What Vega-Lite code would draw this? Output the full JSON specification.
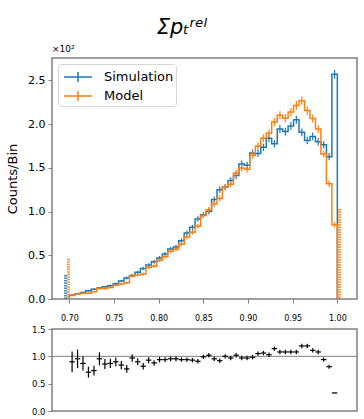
{
  "$schema": "https://vega.github.io/schema/vega-lite/v6.json",
  "background": "white",
  "padding": {"left": 5, "right": 5, "top": 17, "bottom": 5},
  "config": {
    "font": "DejaVu Sans",
    "view": {"stroke": "#808080", "strokeWidth": 1.5},
    "axis": {"grid": false, "domain": false, "tickColor": "#808080", "labelColor": "#000000", "labelFont": "DejaVu Sans", "titleFont": "DejaVu Sans", "titleFontWeight": "normal", "titleColor": "#000000", "tickSize": 4, "tickWidth": 1, "labelOverlap": false}
  },
  "title": {"text": "Σpₜʳᵉˡ", "fontSize": 21, "fontStyle": "italic", "fontWeight": "normal", "anchor": "middle", "offset": 6, "color": "#000000"},
  "spacing": 1,
  "datasets": {
    "steps": [
      {"k": 0, "x": 0.7, "Simulation": 0, "Model": 0},
      {"k": 1, "x": 0.7, "Simulation": 0.045, "Model": 0.041},
      {"k": 2, "x": 0.7061, "Simulation": 0.06, "Model": 0.057},
      {"k": 3, "x": 0.7122, "Simulation": 0.075, "Model": 0.065},
      {"k": 4, "x": 0.7184, "Simulation": 0.095, "Model": 0.067},
      {"k": 5, "x": 0.7245, "Simulation": 0.112, "Model": 0.083},
      {"k": 6, "x": 0.7306, "Simulation": 0.125, "Model": 0.119},
      {"k": 7, "x": 0.7367, "Simulation": 0.14, "Model": 0.12},
      {"k": 8, "x": 0.7429, "Simulation": 0.152, "Model": 0.132},
      {"k": 9, "x": 0.749, "Simulation": 0.175, "Model": 0.158},
      {"k": 10, "x": 0.7551, "Simulation": 0.205, "Model": 0.172},
      {"k": 11, "x": 0.7612, "Simulation": 0.24, "Model": 0.185},
      {"k": 12, "x": 0.7673, "Simulation": 0.27, "Model": 0.262},
      {"k": 13, "x": 0.7735, "Simulation": 0.305, "Model": 0.275},
      {"k": 14, "x": 0.7796, "Simulation": 0.35, "Model": 0.287},
      {"k": 15, "x": 0.7857, "Simulation": 0.39, "Model": 0.363},
      {"k": 16, "x": 0.7918, "Simulation": 0.425, "Model": 0.374},
      {"k": 17, "x": 0.798, "Simulation": 0.47, "Model": 0.442},
      {"k": 18, "x": 0.8041, "Simulation": 0.515, "Model": 0.484},
      {"k": 19, "x": 0.8102, "Simulation": 0.572, "Model": 0.546},
      {"k": 20, "x": 0.8163, "Simulation": 0.595, "Model": 0.568},
      {"k": 21, "x": 0.8224, "Simulation": 0.665, "Model": 0.625},
      {"k": 22, "x": 0.8286, "Simulation": 0.755, "Model": 0.71},
      {"k": 23, "x": 0.8347, "Simulation": 0.82, "Model": 0.763},
      {"k": 24, "x": 0.8408, "Simulation": 0.915, "Model": 0.833},
      {"k": 25, "x": 0.8469, "Simulation": 0.965, "Model": 0.955},
      {"k": 26, "x": 0.8531, "Simulation": 1.0, "Model": 1.02},
      {"k": 27, "x": 0.8592, "Simulation": 1.137, "Model": 1.086},
      {"k": 28, "x": 0.8653, "Simulation": 1.25, "Model": 1.15},
      {"k": 29, "x": 0.8714, "Simulation": 1.28, "Model": 1.28},
      {"k": 30, "x": 0.8776, "Simulation": 1.355, "Model": 1.314},
      {"k": 31, "x": 0.8837, "Simulation": 1.412, "Model": 1.44},
      {"k": 32, "x": 0.8898, "Simulation": 1.545, "Model": 1.499},
      {"k": 33, "x": 0.8959, "Simulation": 1.53, "Model": 1.484},
      {"k": 34, "x": 0.902, "Simulation": 1.67, "Model": 1.645},
      {"k": 35, "x": 0.9082, "Simulation": 1.665, "Model": 1.748},
      {"k": 36, "x": 0.9143, "Simulation": 1.735, "Model": 1.839},
      {"k": 37, "x": 0.9204, "Simulation": 1.84, "Model": 1.895},
      {"k": 38, "x": 0.9265, "Simulation": 1.775, "Model": 2.024},
      {"k": 39, "x": 0.9327, "Simulation": 1.945, "Model": 2.101},
      {"k": 40, "x": 0.9388, "Simulation": 1.915, "Model": 2.068},
      {"k": 41, "x": 0.9449, "Simulation": 1.98, "Model": 2.138},
      {"k": 42, "x": 0.951, "Simulation": 2.05, "Model": 2.214},
      {"k": 43, "x": 0.9571, "Simulation": 1.907, "Model": 2.269},
      {"k": 44, "x": 0.9633, "Simulation": 1.812, "Model": 2.156},
      {"k": 45, "x": 0.9694, "Simulation": 1.86, "Model": 2.065},
      {"k": 46, "x": 0.9755, "Simulation": 1.8, "Model": 1.944},
      {"k": 47, "x": 0.9816, "Simulation": 1.765, "Model": 1.659},
      {"k": 48, "x": 0.9878, "Simulation": 1.628, "Model": 1.319},
      {"k": 49, "x": 0.9939, "Simulation": 2.57, "Model": 0.848},
      {"k": 50, "x": 1.0, "Simulation": 2.57, "Model": 0.848},
      {"k": 51, "x": 1.0, "Simulation": 0, "Model": 0}
    ],
    "bins": [
      {"lo": 0.7, "hi": 0.7061, "c": 0.7031, "sim": 0.045, "se": 0.007, "model": 0.041, "me": 0.007, "r": 0.9, "re": 0.19},
      {"lo": 0.7061, "hi": 0.7122, "c": 0.7092, "sim": 0.06, "se": 0.008, "model": 0.057, "me": 0.008, "r": 0.955, "re": 0.17},
      {"lo": 0.7122, "hi": 0.7184, "c": 0.7153, "sim": 0.075, "se": 0.009, "model": 0.065, "me": 0.008, "r": 0.87, "re": 0.13},
      {"lo": 0.7184, "hi": 0.7245, "c": 0.7214, "sim": 0.095, "se": 0.01, "model": 0.067, "me": 0.008, "r": 0.71, "re": 0.1},
      {"lo": 0.7245, "hi": 0.7306, "c": 0.7276, "sim": 0.112, "se": 0.011, "model": 0.083, "me": 0.009, "r": 0.74, "re": 0.09},
      {"lo": 0.7306, "hi": 0.7367, "c": 0.7337, "sim": 0.125, "se": 0.011, "model": 0.119, "me": 0.011, "r": 0.955, "re": 0.12},
      {"lo": 0.7367, "hi": 0.7429, "c": 0.7398, "sim": 0.14, "se": 0.012, "model": 0.12, "me": 0.011, "r": 0.86, "re": 0.09},
      {"lo": 0.7429, "hi": 0.749, "c": 0.7459, "sim": 0.152, "se": 0.0125, "model": 0.132, "me": 0.012, "r": 0.87, "re": 0.085},
      {"lo": 0.749, "hi": 0.7551, "c": 0.752, "sim": 0.175, "se": 0.013, "model": 0.158, "me": 0.013, "r": 0.9, "re": 0.08},
      {"lo": 0.7551, "hi": 0.7612, "c": 0.7582, "sim": 0.205, "se": 0.0145, "model": 0.172, "me": 0.013, "r": 0.84, "re": 0.075},
      {"lo": 0.7612, "hi": 0.7673, "c": 0.7643, "sim": 0.24, "se": 0.016, "model": 0.185, "me": 0.014, "r": 0.77, "re": 0.07},
      {"lo": 0.7673, "hi": 0.7735, "c": 0.7704, "sim": 0.27, "se": 0.017, "model": 0.262, "me": 0.016, "r": 0.97, "re": 0.07},
      {"lo": 0.7735, "hi": 0.7796, "c": 0.7765, "sim": 0.305, "se": 0.018, "model": 0.275, "me": 0.017, "r": 0.9, "re": 0.065},
      {"lo": 0.7796, "hi": 0.7857, "c": 0.7827, "sim": 0.35, "se": 0.019, "model": 0.287, "me": 0.017, "r": 0.82, "re": 0.06},
      {"lo": 0.7857, "hi": 0.7918, "c": 0.7888, "sim": 0.39, "se": 0.02, "model": 0.363, "me": 0.019, "r": 0.93, "re": 0.055},
      {"lo": 0.7918, "hi": 0.798, "c": 0.7949, "sim": 0.425, "se": 0.021, "model": 0.374, "me": 0.02, "r": 0.88, "re": 0.05},
      {"lo": 0.798, "hi": 0.8041, "c": 0.801, "sim": 0.47, "se": 0.022, "model": 0.442, "me": 0.021, "r": 0.94, "re": 0.05},
      {"lo": 0.8041, "hi": 0.8102, "c": 0.8071, "sim": 0.515, "se": 0.023, "model": 0.484, "me": 0.022, "r": 0.94, "re": 0.045},
      {"lo": 0.8102, "hi": 0.8163, "c": 0.8133, "sim": 0.572, "se": 0.024, "model": 0.546, "me": 0.024, "r": 0.955, "re": 0.045},
      {"lo": 0.8163, "hi": 0.8224, "c": 0.8194, "sim": 0.595, "se": 0.025, "model": 0.568, "me": 0.024, "r": 0.955, "re": 0.045},
      {"lo": 0.8224, "hi": 0.8286, "c": 0.8255, "sim": 0.665, "se": 0.026, "model": 0.625, "me": 0.025, "r": 0.94, "re": 0.04},
      {"lo": 0.8286, "hi": 0.8347, "c": 0.8316, "sim": 0.755, "se": 0.028, "model": 0.71, "me": 0.027, "r": 0.94, "re": 0.04},
      {"lo": 0.8347, "hi": 0.8408, "c": 0.8378, "sim": 0.82, "se": 0.029, "model": 0.763, "me": 0.028, "r": 0.93, "re": 0.04},
      {"lo": 0.8408, "hi": 0.8469, "c": 0.8439, "sim": 0.915, "se": 0.031, "model": 0.833, "me": 0.029, "r": 0.91, "re": 0.04},
      {"lo": 0.8469, "hi": 0.8531, "c": 0.85, "sim": 0.965, "se": 0.031, "model": 0.955, "me": 0.031, "r": 0.99, "re": 0.04},
      {"lo": 0.8531, "hi": 0.8592, "c": 0.8561, "sim": 1.0, "se": 0.032, "model": 1.02, "me": 0.032, "r": 1.02, "re": 0.04},
      {"lo": 0.8592, "hi": 0.8653, "c": 0.8622, "sim": 1.137, "se": 0.034, "model": 1.086, "me": 0.033, "r": 0.955, "re": 0.04},
      {"lo": 0.8653, "hi": 0.8714, "c": 0.8684, "sim": 1.25, "se": 0.036, "model": 1.15, "me": 0.034, "r": 0.92, "re": 0.04},
      {"lo": 0.8714, "hi": 0.8776, "c": 0.8745, "sim": 1.28, "se": 0.036, "model": 1.28, "me": 0.036, "r": 1.0, "re": 0.04},
      {"lo": 0.8776, "hi": 0.8837, "c": 0.8806, "sim": 1.355, "se": 0.037, "model": 1.314, "me": 0.037, "r": 0.97, "re": 0.04},
      {"lo": 0.8837, "hi": 0.8898, "c": 0.8867, "sim": 1.412, "se": 0.038, "model": 1.44, "me": 0.038, "r": 1.02, "re": 0.04},
      {"lo": 0.8898, "hi": 0.8959, "c": 0.8929, "sim": 1.545, "se": 0.04, "model": 1.499, "me": 0.039, "r": 0.97, "re": 0.04},
      {"lo": 0.8959, "hi": 0.902, "c": 0.899, "sim": 1.53, "se": 0.04, "model": 1.484, "me": 0.039, "r": 0.97, "re": 0.04},
      {"lo": 0.902, "hi": 0.9082, "c": 0.9051, "sim": 1.67, "se": 0.041, "model": 1.645, "me": 0.041, "r": 0.985, "re": 0.04},
      {"lo": 0.9082, "hi": 0.9143, "c": 0.9112, "sim": 1.665, "se": 0.041, "model": 1.748, "me": 0.042, "r": 1.05, "re": 0.04},
      {"lo": 0.9143, "hi": 0.9204, "c": 0.9173, "sim": 1.735, "se": 0.042, "model": 1.839, "me": 0.043, "r": 1.06, "re": 0.04},
      {"lo": 0.9204, "hi": 0.9265, "c": 0.9235, "sim": 1.84, "se": 0.043, "model": 1.895, "me": 0.044, "r": 1.03, "re": 0.04},
      {"lo": 0.9265, "hi": 0.9327, "c": 0.9296, "sim": 1.775, "se": 0.043, "model": 2.024, "me": 0.046, "r": 1.14, "re": 0.04},
      {"lo": 0.9327, "hi": 0.9388, "c": 0.9357, "sim": 1.945, "se": 0.045, "model": 2.101, "me": 0.046, "r": 1.08, "re": 0.04},
      {"lo": 0.9388, "hi": 0.9449, "c": 0.9418, "sim": 1.915, "se": 0.044, "model": 2.068, "me": 0.046, "r": 1.08, "re": 0.04},
      {"lo": 0.9449, "hi": 0.951, "c": 0.948, "sim": 1.98, "se": 0.045, "model": 2.138, "me": 0.047, "r": 1.08, "re": 0.04},
      {"lo": 0.951, "hi": 0.9571, "c": 0.9541, "sim": 2.05, "se": 0.046, "model": 2.214, "me": 0.048, "r": 1.08, "re": 0.04},
      {"lo": 0.9571, "hi": 0.9633, "c": 0.9602, "sim": 1.907, "se": 0.044, "model": 2.269, "me": 0.048, "r": 1.19, "re": 0.04},
      {"lo": 0.9633, "hi": 0.9694, "c": 0.9663, "sim": 1.812, "se": 0.043, "model": 2.156, "me": 0.047, "r": 1.19, "re": 0.04},
      {"lo": 0.9694, "hi": 0.9755, "c": 0.9724, "sim": 1.86, "se": 0.044, "model": 2.065, "me": 0.046, "r": 1.11, "re": 0.04},
      {"lo": 0.9755, "hi": 0.9816, "c": 0.9786, "sim": 1.8, "se": 0.043, "model": 1.944, "me": 0.045, "r": 1.08, "re": 0.04},
      {"lo": 0.9816, "hi": 0.9878, "c": 0.9847, "sim": 1.765, "se": 0.043, "model": 1.659, "me": 0.041, "r": 0.94, "re": 0.04},
      {"lo": 0.9878, "hi": 0.9939, "c": 0.9908, "sim": 1.628, "se": 0.041, "model": 1.319, "me": 0.037, "r": 0.81, "re": 0.035},
      {"lo": 0.9939, "hi": 1.0, "c": 0.9969, "sim": 2.57, "se": 0.051, "model": 0.848, "me": 0.03, "r": 0.33, "re": 0.005}
    ],
    "spikes": [
      {"x": 0.6957, "h": 0.275, "series": "Simulation"},
      {"x": 0.699, "h": 0.46, "series": "Model"},
      {"x": 1.0024, "h": 1.03, "series": "Model"}
    ],
    "ref": [{"ratio": 1}]
  },
  "vconcat": [
    {
      "width": 305,
      "height": 241,
      "title": {"text": "×10²", "anchor": "start", "frame": "group", "fontSize": 9, "fontWeight": "normal", "fontStyle": "normal", "offset": 4, "color": "#000000"},
      "layer": [
        {
          "data": {"name": "steps"},
          "transform": [{"fold": ["Simulation", "Model"], "as": ["series", "v"]}],
          "mark": {"type": "line", "interpolate": "step-after", "strokeWidth": 1.5},
          "encoding": {
            "x": {"field": "x", "type": "quantitative", "scale": {"domain": [0.6806, 1.022], "nice": false, "zero": false}, "axis": {"values": [0.7, 0.75, 0.8, 0.85, 0.9, 0.95, 1.0], "format": ".2f", "labelFontSize": 8, "labelPadding": 11, "title": null}},
            "y": {"field": "v", "type": "quantitative", "scale": {"domain": [0, 2.757], "nice": false}, "axis": {"values": [0, 0.5, 1, 1.5, 2, 2.5], "format": ".1f", "labelFontSize": 11, "labelPadding": 3, "title": "Counts/Bin", "titleFontSize": 13, "titlePadding": 8}},
            "order": {"field": "k", "type": "quantitative"},
            "color": {"field": "series", "type": "nominal", "scale": {"domain": ["Simulation", "Model"], "range": ["#1f77b4", "#ff7f0e"]},
              "legend": {"title": null, "orient": "top-left", "offset": 6, "padding": 2, "strokeColor": "#d6d6d6", "cornerRadius": 3, "fillColor": "white", "labelFontSize": 13, "labelFont": "DejaVu Sans", "labelColor": "#000000", "symbolType": "M-0.7,0L2.1,0M0.7,-0.5L0.7,0.5", "symbolSize": 400, "symbolStrokeWidth": 1.5, "labelOffset": 22, "rowPadding": 0}}
          }
        },
        {
          "data": {"name": "spikes"},
          "transform": [{"filter": "datum.series == 'Simulation'"}],
          "mark": {"type": "rule", "strokeWidth": 3, "strokeDash": [1.5, 1], "opacity": 0.85, "stroke": "#1f77b4"},
          "encoding": {
            "x": {"field": "x", "type": "quantitative", "title": null},
            "y": {"field": "h", "type": "quantitative", "title": "Counts/Bin"},
            "y2": {"datum": 0}
          }
        },
        {
          "data": {"name": "spikes"},
          "transform": [{"filter": "datum.series == 'Model'"}],
          "mark": {"type": "rule", "strokeWidth": 3, "strokeDash": [1.5, 1], "opacity": 0.85, "stroke": "#ff7f0e"},
          "encoding": {
            "x": {"field": "x", "type": "quantitative", "title": null},
            "y": {"field": "h", "type": "quantitative", "title": "Counts/Bin"},
            "y2": {"datum": 0}
          }
        },
        {
          "data": {"name": "bins"},
          "mark": {"type": "errorbar", "color": "#1f77b4", "thickness": 1.2},
          "encoding": {
            "x": {"field": "c", "type": "quantitative", "title": null},
            "y": {"field": "sim", "type": "quantitative", "title": "Counts/Bin"},
            "yError": {"field": "se"}
          }
        },
        {
          "data": {"name": "bins"},
          "mark": {"type": "errorbar", "color": "#ff7f0e", "thickness": 1.2},
          "encoding": {
            "x": {"field": "c", "type": "quantitative", "title": null},
            "y": {"field": "model", "type": "quantitative", "title": "Counts/Bin"},
            "yError": {"field": "me"}
          }
        }
      ]
    },
    {
      "width": 305,
      "height": 82,
      "layer": [
        {
          "data": {"name": "ref"},
          "mark": {"type": "rule", "color": "#808080", "strokeWidth": 1},
          "encoding": {
            "y": {"field": "ratio", "type": "quantitative", "scale": {"domain": [0, 1.5], "nice": false}, "axis": {"values": [0, 0.5, 1, 1.5], "format": ".1f", "labelFontSize": 8.5, "labelPadding": 3, "title": null}}
          }
        },
        {
          "data": {"name": "bins"},
          "mark": {"type": "rule", "color": "#000000", "strokeWidth": 1.2},
          "encoding": {
            "x": {"field": "lo", "type": "quantitative", "scale": {"domain": [0.6806, 1.022], "nice": false, "zero": false}, "axis": null},
            "x2": {"field": "hi"},
            "y": {"field": "r", "type": "quantitative", "axis": {"values": [0, 0.5, 1, 1.5], "format": ".1f", "labelFontSize": 8.5, "labelPadding": 3, "title": null}}
          }
        },
        {
          "data": {"name": "bins"},
          "mark": {"type": "errorbar", "color": "#000000", "thickness": 1.2},
          "encoding": {
            "x": {"field": "c", "type": "quantitative", "axis": null},
            "y": {"field": "r", "type": "quantitative", "axis": {"values": [0, 0.5, 1, 1.5], "format": ".1f", "labelFontSize": 8.5, "labelPadding": 3, "title": null}},
            "yError": {"field": "re"}
          }
        }
      ]
    }
  ]
}
